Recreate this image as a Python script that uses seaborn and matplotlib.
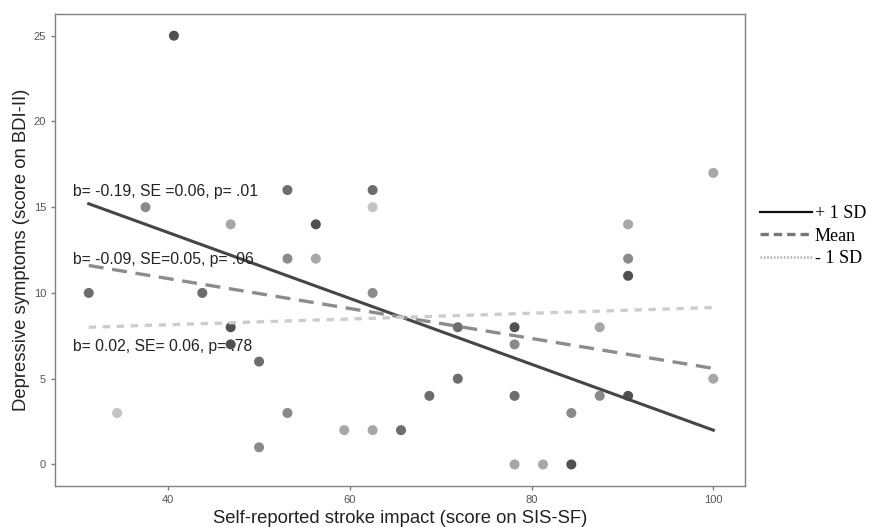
import numpy as np
import pandas as pd
import matplotlib
matplotlib.use("Agg")
import matplotlib.pyplot as plt
from matplotlib.colors import LinearSegmentedColormap
from matplotlib.lines import Line2D
import seaborn as sns

# %% Data
sis_sf = [31.25, 34.375, 37.5, 40.625, 43.75, 46.875, 46.875, 46.875, 50, 50,
          53.125, 53.125, 53.125, 56.25, 56.25, 59.375, 62.5, 62.5, 62.5, 62.5,
          65.625, 68.75, 71.875, 71.875, 78.125, 78.125, 78.125, 78.125, 81.25,
          84.375, 84.375, 87.5, 87.5, 90.625, 90.625, 90.625, 90.625, 100, 100]
bdi = [10, 3, 15, 25, 10, 14, 8, 7, 6, 1,
       16, 12, 3, 14, 12, 2, 16, 15, 10, 2,
       2, 4, 8, 5, 8, 7, 4, 0, 0,
       3, 0, 8, 4, 14, 12, 11, 4, 17, 5]
# shade of each point (moderator level, 1 = light, 5 = dark)
moderator = [4, 1, 3, 5, 4, 2, 5, 5, 4, 3,
             4, 3, 3, 5, 2, 2, 4, 1, 3, 2,
             4, 4, 4, 4, 5, 3, 4, 2, 2,
             3, 5, 2, 3, 2, 3, 5, 5, 2, 2]

# simple slopes: predicted BDI at min and max SIS-SF
line_labels = ["+ 1 SD", "Mean", "- 1 SD"]
line_x = [31.25, 100]
line_start = [15.2, 11.6, 8.0]
line_end = [2.0, 5.6, 9.15]
slope_text = ["b= -0.19, SE =0.06, p= .01",
              "b= -0.09, SE=0.05, p= .06",
              "b= 0.02, SE= 0.06, p= .78"]
text_y = [15.9, 11.95, 6.9]

df = pd.DataFrame({"x": sis_sf, "y": bdi, "mod": moderator})

# %% Plot
fig = plt.figure(figsize=(8.75, 5.27), dpi=100)
ax = fig.add_axes([0.063, 0.078, 0.788, 0.895])

greys = LinearSegmentedColormap.from_list("g", ["#c4c4c4", "#505050"])
sns.scatterplot(data=df, x="x", y="y", hue="mod", palette=greys,
                s=52, linewidth=0, legend=False, ax=ax, zorder=2)

line_styles = [dict(color="#464646", lw=2.2, ls="-"),
               dict(color="#8c8c8c", lw=2.4, ls=(0, (4.5, 2.6))),
               dict(color="#cccccc", lw=2.4, ls=(0, (2.2, 2.0)))]
for start, end, st in zip(line_start, line_end, line_styles):
    sns.lineplot(x=line_x, y=[start, end], ax=ax, color=st["color"],
                 linewidth=st["lw"], linestyle=st["ls"], zorder=3)

for txt, ty in zip(slope_text, text_y):
    ax.text(29.5, ty, txt, fontsize=11.3, family="Liberation Sans",
            color="#222222", va="center", ha="left", zorder=4)

ax.set_xlim(27.55, 103.45)
ax.set_ylim(-1.25, 26.25)
ax.set_xticks([40, 60, 80, 100])
ax.set_yticks([0, 5, 10, 15, 20, 25])
ax.set_xlabel("Self-reported stroke impact (score on SIS-SF)",
              fontsize=13.3, family="Liberation Sans", color="#222222", labelpad=4)
ax.set_ylabel("Depressive symptoms (score on BDI-II)",
              fontsize=13.3, family="Liberation Sans", color="#222222", labelpad=3)
ax.tick_params(colors="#7f7f7f", labelcolor="#555555", labelsize=8,
               length=3, width=1)
for lab in ax.get_xticklabels() + ax.get_yticklabels():
    lab.set_family("Liberation Sans")
for sp in ax.spines.values():
    sp.set_color("#808080")
    sp.set_linewidth(1.0)
ax.grid(False)

handles = [Line2D([], [], color="#111111", lw=1.6, ls="-"),
           Line2D([], [], color="#777777", lw=2.4, ls=(0, (2.5, 1.5))),
           Line2D([], [], color="#bbbbbb", lw=2.0, ls=(0, (0.6, 0.6)))]
fig.legend(handles, line_labels, loc="center left",
           bbox_to_anchor=(0.866, 0.552), frameon=False,
           prop={"family": "Liberation Serif", "size": 13},
           handlelength=2.9, handletextpad=0.15, labelspacing=0.3,
           borderpad=0.1, borderaxespad=0)

fig.savefig("out.png", dpi=100)
